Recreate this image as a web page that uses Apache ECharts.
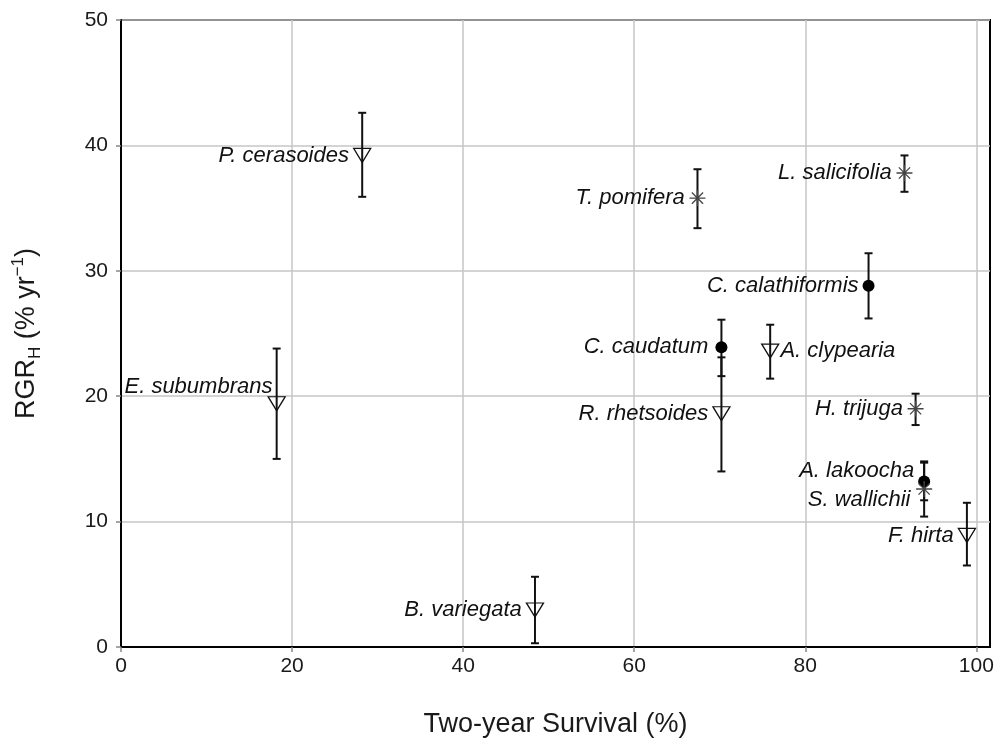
<!DOCTYPE html>
<html>
<head>
<meta charset="utf-8">
<script src="https://cdn.jsdelivr.net/npm/echarts@6/dist/echarts.min.js"></script>
<style>
  html, body { margin: 0; padding: 0; background: #fff; }
</style>
</head>
<body>
<div id="myEchart" style="width:997px; height:744px;"></div>
<script>
// species data
var names = ['P. cerasoides', 'E. subumbrans', 'B. variegata', 'T. pomifera', 'L. salicifolia',
  'C. calathiformis', 'C. caudatum', 'A. clypearia', 'R. rhetsoides', 'H. trijuga',
  'A. lakoocha', 'S. wallichii', 'F. hirta'];
var survival = [28.2, 18.2, 48.4, 67.4, 91.6, 87.4, 70.2, 75.9, 70.2, 92.9, 93.9, 93.9, 98.9];
var rgr = [39.2, 19.4, 2.95, 35.8, 37.8, 28.8, 23.9, 23.6, 18.6, 19.0, 13.2, 12.6, 8.9];
var errLow = [35.9, 15.0, 0.3, 33.4, 36.3, 26.2, 21.6, 21.4, 14.0, 17.7, 11.7, 10.4, 6.5];
var errHigh = [42.6, 23.8, 5.6, 38.1, 39.2, 31.4, 26.1, 25.7, 23.1, 20.2, 14.7, 14.8, 11.5];
// marker kind: tri = open down triangle, dot = filled circle, star = asterisk
var kind = ['tri', 'tri', 'tri', 'star', 'star', 'dot', 'dot', 'tri', 'tri', 'star', 'dot', 'star', 'tri'];
var xTicks = [0, 20, 40, 60, 80, 100];
var yTicks = [0, 10, 20, 30, 40, 50];

// label placement tweaks (style only)
var labelTweak = {
  'E. subumbrans': { offset: [9, -17] },
  'A. clypearia': { position: 'right', distance: 1 },
  'A. lakoocha': { offset: [0, -11] },
  'S. wallichii': { offset: [-1, 11] },
  'C. calathiformis': { distance: 4 },
  'C. caudatum': { distance: 7 }
};

var TRI = 'path://M0,0 L10,0 L5,8.5 Z';
var STAR = 'path://M0,-1 L0,1 M-1,0 L1,0 M-0.7,-0.7 L0.7,0.7 M-0.7,0.7 L0.7,-0.7';

function pointsOf(k) {
  var out = [];
  for (var i = 0; i < names.length; i++) {
    if (kind[i] !== k) continue;
    var item = { name: names[i], value: [survival[i], rgr[i]] };
    if (labelTweak[names[i]]) item.label = labelTweak[names[i]];
    out.push(item);
  }
  return out;
}

var errData = [];
for (var i = 0; i < names.length; i++) {
  errData.push([survival[i], errLow[i], errHigh[i]]);
}

var labelBase = {
  show: true,
  position: 'left',
  distance: 4,
  formatter: '{b}',
  color: '#111',
  fontSize: 22,
  fontStyle: 'italic',
  fontFamily: 'Liberation Sans, Arial, sans-serif'
};

var myChart = echarts.init(document.getElementById('myEchart'));
myChart.setOption({
  animation: false,
  textStyle: { fontFamily: 'Liberation Sans, Arial, sans-serif' },
  grid: {
    left: 121, right: 7, top: 20, bottom: 97,
    show: true, borderColor: '#000', borderWidth: 2
  },
  xAxis: {
    type: 'value',
    min: 0, max: 101.6, interval: 20,
    name: 'Two-year Survival (%)',
    nameLocation: 'middle',
    nameGap: 64,
    nameTextStyle: { fontSize: 27, color: '#1a1a1a' },
    axisLine: { show: true, lineStyle: { color: '#000', width: 2 } },
    axisTick: { show: true, length: 5, customValues: xTicks, lineStyle: { color: '#888', width: 1.5 } },
    axisLabel: { customValues: xTicks, fontSize: 21, color: '#1a1a1a', margin: 9 },
    splitLine: { show: true, lineStyle: { color: '#c6c6c6', width: 1.5 } }
  },
  yAxis: {
    type: 'value',
    min: 0, max: 50, interval: 10,
    name: '{a|RGR}{s|H}{a| (% yr}{p|−1}{a|)}',
    nameLocation: 'middle',
    nameGap: 77,
    nameTextStyle: {
      color: '#1a1a1a',
      rich: {
        a: { fontSize: 27, color: '#1a1a1a', lineHeight: 34 },
        s: { fontSize: 17, color: '#1a1a1a', verticalAlign: 'bottom', lineHeight: 26 },
        p: { fontSize: 17, color: '#1a1a1a', verticalAlign: 'top', lineHeight: 34 }
      }
    },
    axisLine: { show: true, lineStyle: { color: '#000', width: 2 } },
    axisTick: { show: true, length: 5, customValues: yTicks, lineStyle: { color: '#888', width: 1.5 } },
    axisLabel: { customValues: yTicks, fontSize: 21, color: '#1a1a1a', margin: 13 },
    splitLine: { show: true, lineStyle: { color: '#c6c6c6', width: 1.5 } }
  },
  series: [
    {
      type: 'custom',
      name: 'err',
      data: errData,
      z: 3,
      renderItem: function (params, api) {
        var x = api.value(0);
        var lo = api.coord([x, api.value(1)]);
        var hi = api.coord([x, api.value(2)]);
        var w = 4;
        var st = { stroke: '#111', lineWidth: 2 };
        return {
          type: 'group',
          children: [
            { type: 'line', shape: { x1: lo[0], y1: lo[1], x2: hi[0], y2: hi[1] }, style: st },
            { type: 'line', shape: { x1: lo[0] - w, y1: lo[1], x2: lo[0] + w, y2: lo[1] }, style: st },
            { type: 'line', shape: { x1: hi[0] - w, y1: hi[1], x2: hi[0] + w, y2: hi[1] }, style: st }
          ]
        };
      }
    },
    {
      type: 'scatter',
      name: 'tri',
      data: pointsOf('tri'),
      symbol: TRI,
      symbolSize: [17, 14],
      z: 4,
      itemStyle: { color: 'rgba(0,0,0,0)', borderColor: '#111', borderWidth: 1.3, opacity: 1 },
      label: labelBase
    },
    {
      type: 'scatter',
      name: 'dot',
      data: pointsOf('dot'),
      symbol: 'circle',
      symbolSize: 12,
      z: 4,
      itemStyle: { color: '#000', opacity: 1 },
      label: labelBase
    },
    {
      type: 'scatter',
      name: 'star',
      data: pointsOf('star'),
      symbol: STAR,
      symbolSize: 16,
      z: 4,
      itemStyle: { color: 'rgba(0,0,0,0)', borderColor: '#444', borderWidth: 1.3, opacity: 1 },
      label: labelBase
    }
  ]
});
</script>
</body>
</html>
